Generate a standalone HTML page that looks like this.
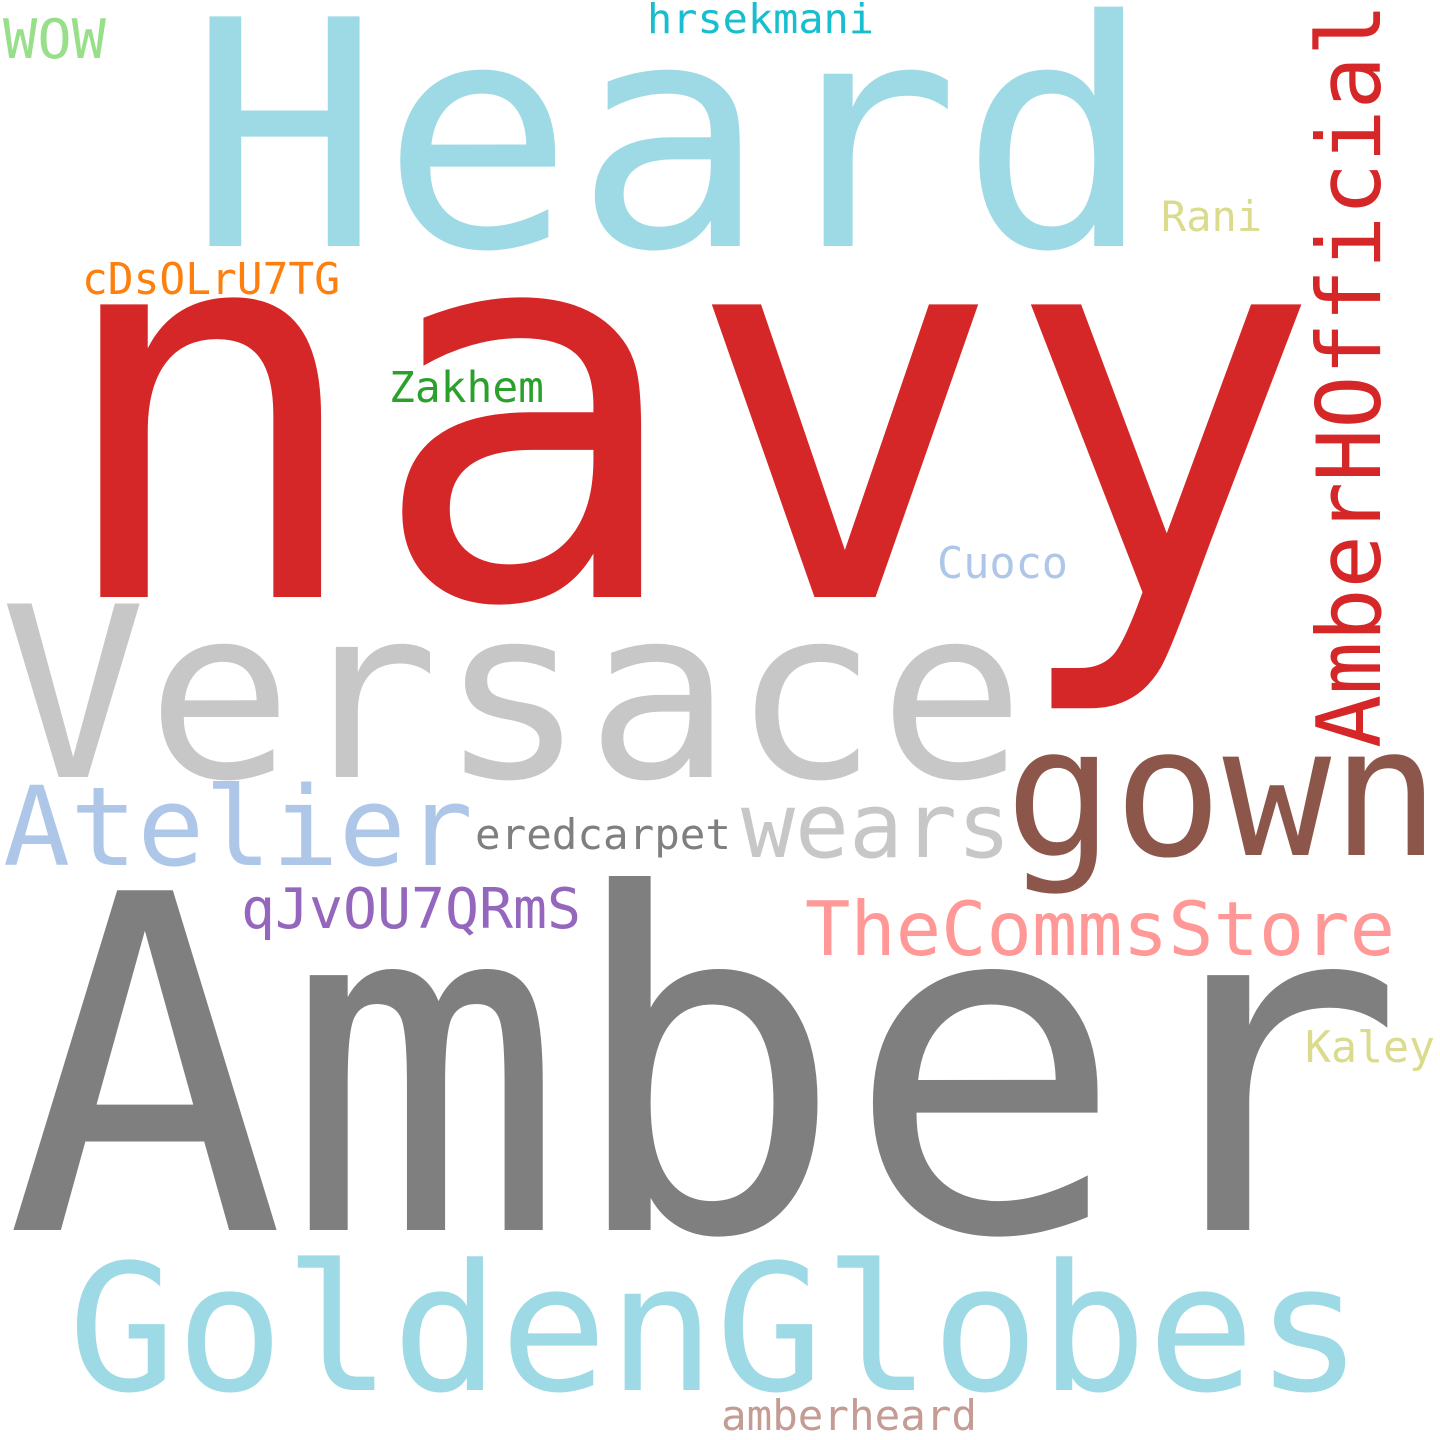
<!DOCTYPE html>
<html><head><meta charset="utf-8"><style>
html,body{margin:0;padding:0;background:#fff;}
svg{display:block;}
text{font-family:"DejaVu Sans Mono","Liberation Mono",monospace;}
</style></head><body>
<svg width="1440" height="1440" viewBox="0 0 1440 1440">
<rect width="1440" height="1440" fill="#fff"/>
<text x="188" y="246" font-size="315" fill="#9edae5" textLength="965" lengthAdjust="spacingAndGlyphs">Heard</text>
<text x="50" y="597" font-size="535" fill="#d62728" textLength="1272" lengthAdjust="spacingAndGlyphs">navy</text>
<text x="0" y="777" font-size="238" fill="#c7c7c7" textLength="1025" lengthAdjust="spacingAndGlyphs">Versace</text>
<text x="5" y="1230" font-size="466" fill="#7f7f7f" textLength="1400" lengthAdjust="spacingAndGlyphs">Amber</text>
<text x="68" y="1390" font-size="176" fill="#9edae5" textLength="1295" lengthAdjust="spacingAndGlyphs">GoldenGlobes</text>
<text x="1005" y="855" font-size="180" fill="#8c564b" textLength="435" lengthAdjust="spacingAndGlyphs">gown</text>
<text transform="translate(1380,748) rotate(-90)" x="0" y="0" font-size="88" fill="#d62728" textLength="745" lengthAdjust="spacingAndGlyphs">AmberHOfficial</text>
<text x="3" y="865" font-size="110" fill="#aec7e8" textLength="470" lengthAdjust="spacingAndGlyphs">Atelier</text>
<text x="741" y="857" font-size="90" fill="#c7c7c7" textLength="270" lengthAdjust="spacingAndGlyphs">wears</text>
<text x="475" y="849" font-size="42" fill="#7f7f7f" textLength="256" lengthAdjust="spacingAndGlyphs">eredcarpet</text>
<text x="805" y="955" font-size="75" fill="#ff9896" textLength="590" lengthAdjust="spacingAndGlyphs">TheCommsStore</text>
<text x="241" y="928" font-size="56" fill="#9467bd" textLength="340" lengthAdjust="spacingAndGlyphs">qJvOU7QRmS</text>
<text x="1305" y="1062" font-size="44" fill="#dbdb8d" textLength="130" lengthAdjust="spacingAndGlyphs">Kaley</text>
<text x="721" y="1430" font-size="42" fill="#c49c94" textLength="256" lengthAdjust="spacingAndGlyphs">amberheard</text>
<text x="937" y="578" font-size="44" fill="#aec7e8" textLength="131" lengthAdjust="spacingAndGlyphs">Cuoco</text>
<text x="389" y="402" font-size="43" fill="#2ca02c" textLength="155" lengthAdjust="spacingAndGlyphs">Zakhem</text>
<text x="82" y="294" font-size="44" fill="#ff7f0e" textLength="258" lengthAdjust="spacingAndGlyphs">cDsOLrU7TG</text>
<text x="1161" y="231" font-size="42" fill="#dbdb8d" textLength="101" lengthAdjust="spacingAndGlyphs">Rani</text>
<text x="647" y="33" font-size="41" fill="#17becf" textLength="227" lengthAdjust="spacingAndGlyphs">hrsekmani</text>
<text x="3" y="58" font-size="54" fill="#98df8a" textLength="103" lengthAdjust="spacingAndGlyphs">WOW</text>
</svg>
</body></html>
